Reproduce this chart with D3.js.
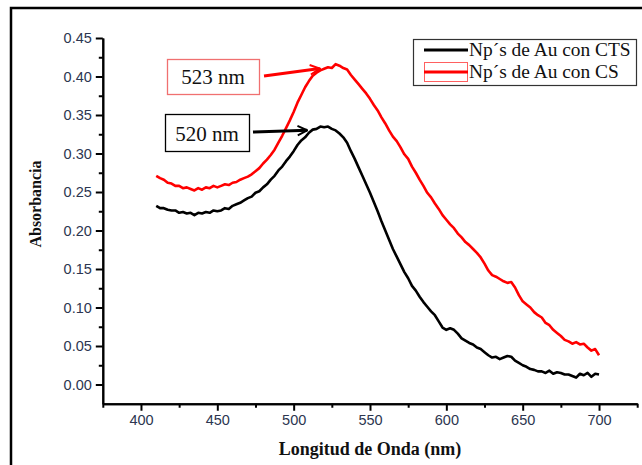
<!DOCTYPE html>
<html>
<head>
<meta charset="utf-8">
<script src="https://cdn.jsdelivr.net/npm/d3@7"></script>
<style>
  html, body { margin: 0; padding: 0; background: #fff; }
  svg { display: block; }
</style>
</head>
<body>
<svg id="chart" width="642" height="465"></svg>
<script>
// ---- data ----
// wavelengths sampled every 2.5 nm from 410 to 700 nm
const wavelengths = d3.range(410, 701, 2.5);
const ctsValues = [
  0.232,0.229,0.229,0.227,0.226,0.226,0.223,0.224,0.222,0.223,
  0.220,0.223,0.222,0.224,0.223,0.226,0.225,0.226,0.229,0.228,
  0.232,0.234,0.236,0.239,0.242,0.244,0.249,0.251,0.256,0.260,
  0.266,0.271,0.278,0.283,0.290,0.296,0.303,0.311,0.317,0.321,
  0.327,0.331,0.332,0.335,0.334,0.335,0.332,0.330,0.326,0.321,
  0.314,0.303,0.293,0.282,0.271,0.260,0.249,0.237,0.225,0.212,
  0.200,0.188,0.176,0.166,0.156,0.146,0.138,0.128,0.122,0.114,
  0.107,0.101,0.095,0.090,0.082,0.074,0.071,0.073,0.071,0.066,
  0.060,0.057,0.054,0.052,0.048,0.046,0.042,0.038,0.035,0.036,
  0.033,0.035,0.037,0.036,0.031,0.028,0.025,0.023,0.020,0.019,
  0.017,0.017,0.015,0.018,0.014,0.016,0.015,0.013,0.013,0.011,
  0.009,0.014,0.012,0.015,0.010,0.014,0.013];
const csValues = [
  0.271,0.268,0.266,0.262,0.261,0.258,0.258,0.255,0.256,0.254,
  0.252,0.255,0.253,0.256,0.255,0.258,0.256,0.258,0.260,0.259,
  0.262,0.263,0.266,0.268,0.270,0.273,0.277,0.281,0.287,0.292,
  0.298,0.305,0.314,0.323,0.333,0.343,0.354,0.366,0.376,0.386,
  0.394,0.401,0.405,0.408,0.410,0.412,0.411,0.416,0.414,0.411,
  0.409,0.402,0.396,0.390,0.384,0.378,0.371,0.363,0.356,0.347,
  0.339,0.330,0.322,0.316,0.308,0.299,0.293,0.283,0.275,0.266,
  0.258,0.249,0.243,0.235,0.228,0.220,0.214,0.208,0.203,0.196,
  0.191,0.185,0.181,0.176,0.171,0.165,0.157,0.148,0.142,0.140,
  0.137,0.134,0.132,0.133,0.126,0.116,0.108,0.104,0.100,0.094,
  0.090,0.087,0.080,0.077,0.071,0.067,0.063,0.058,0.056,0.053,
  0.055,0.052,0.053,0.048,0.044,0.046,0.038];
const seriesNames = ["Np\u00B4s de Au con CTS", "Np\u00B4s de Au con CS"];
const seriesColors = ["#000000", "#ff0000"];
const xMajorTicks = [400,450,500,550,600,650,700];
const xMinorTicks = [375,425,475,525,575,625,675,725];
const yMajorTicks = [0,0.05,0.10,0.15,0.20,0.25,0.30,0.35,0.40,0.45];
const yMinorTicks = [0.025,0.075,0.125,0.175,0.225,0.275,0.325,0.375,0.425];
const peakLabels = ["523 nm", "520 nm"];
const peakWavelengths = [523, 520];
const peakValues = [0.413, 0.334];
const xTitle = "Longitud de Onda (nm)";
const yTitle = "Absorbancia";

// ---- layout ----
const svg = d3.select("#chart");
const x = d3.scaleLinear().domain([375, 725]).range([102.8, 637.2]);
const y = d3.scaleLinear().domain([-0.025, 0.45]).range([403.75, 38]);

// outer frame (cropped at right / bottom)
svg.append("rect").attr("x", 11).attr("y", 8).attr("width", 700).attr("height", 500)
  .attr("fill", "none").attr("stroke", "#000").attr("stroke-width", 2.5);

const tickFont = "Liberation Sans, Arial, sans-serif";
const tickColor = "#2c3650";

// axes
const xMajor = d3.axisBottom(x).tickValues(xMajorTicks).tickSize(7).tickSizeOuter(0).tickPadding(4).tickFormat(d3.format("d"));
const xMinor = d3.axisBottom(x).tickValues(xMinorTicks).tickSize(4).tickSizeOuter(0).tickFormat("");
const yMajor = d3.axisLeft(y).tickValues(yMajorTicks).tickSize(7).tickSizeOuter(0).tickPadding(4).tickFormat(d3.format(".2f"));
const yMinor = d3.axisLeft(y).tickValues(yMinorTicks).tickSize(4).tickSizeOuter(0).tickFormat("");

function styleAxis(g) {
  g.selectAll("path.domain").attr("stroke", "#000").attr("stroke-width", 2);
  g.selectAll(".tick line").attr("stroke", "#000").attr("stroke-width", 2);
  g.selectAll("text").attr("font-family", tickFont).attr("font-size", 14.5).attr("fill", tickColor);
}
const gx = svg.append("g").attr("transform", `translate(0,${y(-0.025)})`);
gx.append("g").call(xMinor).call(styleAxis);
gx.append("g").call(xMajor).call(styleAxis);
const gy = svg.append("g").attr("transform", `translate(${x(375)},0)`);
gy.append("g").call(yMinor).call(styleAxis);
gy.append("g").call(yMajor).call(styleAxis);

// titles
svg.append("text").attr("x", 370).attr("y", 455).attr("text-anchor", "middle")
  .attr("font-family", "Liberation Serif, Times New Roman, serif").attr("font-weight", "bold")
  .attr("font-size", 18).attr("fill", "#111").text(xTitle);
svg.append("text").attr("transform", "translate(41,204) rotate(-90)").attr("text-anchor", "middle")
  .attr("font-family", "Liberation Serif, Times New Roman, serif").attr("font-weight", "bold")
  .attr("font-size", 16).attr("fill", "#111").text(yTitle);

// lines
const line = d3.line().x((d, i) => x(wavelengths[i])).y(d => y(d));
[ctsValues, csValues].forEach((vals, k) => {
  svg.append("path").datum(vals).attr("d", line)
    .attr("fill", "none").attr("stroke", seriesColors[k]).attr("stroke-width", 2.6)
    .attr("stroke-linejoin", "round");
});

// legend
const lg = svg.append("g");
lg.append("rect").attr("x", 413.5).attr("y", 39.5).attr("width", 223).attr("height", 46)
  .attr("fill", "#fff").attr("stroke", "#333").attr("stroke-width", 1.2);
const legY = [50, 72];
seriesNames.forEach((name, k) => {
  if (k === 1) {
    lg.append("rect").attr("x", 424.5).attr("y", legY[k] - 9.5).attr("width", 43).attr("height", 19)
      .attr("fill", "none").attr("stroke", "#ff6060").attr("stroke-width", 1);
  }
  lg.append("line").attr("x1", 424).attr("x2", 468).attr("y1", legY[k]).attr("y2", legY[k])
    .attr("stroke", seriesColors[k]).attr("stroke-width", 3);
  lg.append("text").attr("x", 469).attr("y", legY[k] + 6)
    .attr("font-family", "Liberation Serif, Times New Roman, serif").attr("font-size", 19.4)
    .attr("fill", "#111").text(name);
});

// annotations
const defs = svg.append("defs");
seriesColors.forEach((c, k) => {
  defs.append("marker").attr("id", "arr" + k).attr("viewBox", "0 0 10 10")
    .attr("refX", 9).attr("refY", 5).attr("markerWidth", 4).attr("markerHeight", 4)
    .attr("orient", "auto").attr("markerUnits", "strokeWidth")
    .append("path").attr("d", "M1,1 L9,5 L1,9").attr("fill", "none")
    .attr("stroke", c).attr("stroke-width", 1.6);
});
const ann = [
  { box: [167.5, 59.5, 92, 35], color: "#f07070", arrowColor: "#ff0000", textX: 213, textY: 84, from: [264, 76], to: [x(peakWavelengths[0]) - 9, y(peakValues[0]) + 2], m: 1 },
  { box: [165.5, 114.5, 84, 37], color: "#000", arrowColor: "#000", textX: 207, textY: 141, from: [253, 132], to: [x(peakWavelengths[1]) - 17, y(peakValues[1]) + 3], m: 0 }
];
ann.forEach((a, k) => {
  svg.append("rect").attr("x", a.box[0]).attr("y", a.box[1]).attr("width", a.box[2]).attr("height", a.box[3])
    .attr("fill", "#fff").attr("stroke", a.color).attr("stroke-width", 1.3);
  svg.append("text").attr("x", a.textX).attr("y", a.textY).attr("text-anchor", "middle")
    .attr("font-family", "Liberation Serif, Times New Roman, serif").attr("font-size", 21)
    .attr("fill", "#111").text(peakLabels[k]);
  svg.append("line").attr("x1", a.from[0]).attr("y1", a.from[1]).attr("x2", a.to[0]).attr("y2", a.to[1])
    .attr("stroke", a.arrowColor).attr("stroke-width", 3).attr("marker-end", `url(#arr${a.m})`);
});
</script>
</body>
</html>
